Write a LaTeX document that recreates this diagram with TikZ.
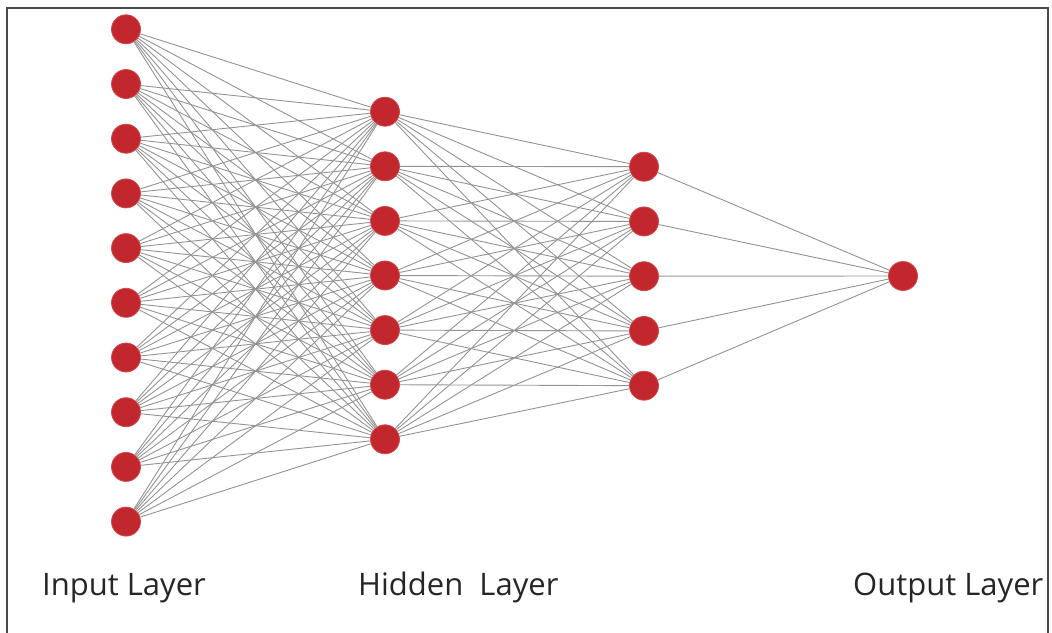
\documentclass[tikz,border=0pt]{standalone}
\usepackage{fontspec}
\setmainfont{Open Sans}
\usetikzlibrary{positioning}
\definecolor{neuronred}{HTML}{C1272D}
\definecolor{neuronrim}{HTML}{D2484B}
\definecolor{synapse}{HTML}{939393}
\definecolor{framegray}{HTML}{4A4A4A}
\begin{document}
\begin{tikzpicture}[x=1pt,y=-1pt,
    neuron/.style={circle,fill=neuronred,draw=neuronrim,line width=0.8pt,minimum size=29pt,inner sep=0pt},
    layername/.style={anchor=base west,inner sep=0pt,font=\fontsize{31}{36}\selectfont,text=black!85},
    link/.style={draw=synapse,line width=0.9pt}]
   \useasboundingbox (0,0) rectangle (1052,632);
   \draw[framegray,line width=1.4pt] (7,640) -- (7,8) -- (1048,8) -- (1048,640);
   % neurons
   \foreach \i in {1,...,10}
     \node[neuron] (in\i) at (126,{29.3+54.7*(\i-1)}) {};
   \foreach \j in {1,...,7}
     \node[neuron] (hA\j) at (385,{111.7+54.6*(\j-1)}) {};
   \foreach \k in {1,...,5}
     \node[neuron] (hB\k) at (644,{166.7+54.75*(\k-1)}) {};
   \node[neuron] (out) at (903,276) {};
   % connections
   \foreach \i in {1,...,10}
     \foreach \j in {1,...,7}
       \path[link] (in\i) -- (hA\j);
   \foreach \j in {1,...,7}
     \foreach \k in {1,...,5}
       \path[link] (hA\j) -- (hB\k);
   \foreach \k in {1,...,5}
     \path[link] (hB\k) -- (out);
   % labels
   \node[layername] (inlabel) at (42,595) {Input Layer};
   \node[layername] (hiddenlabel) at (358,595) {Hidden\ \ Layer};
   \node[layername] (outlabel) at (853,595) {Output Layer};
\end{tikzpicture}
\end{document}
